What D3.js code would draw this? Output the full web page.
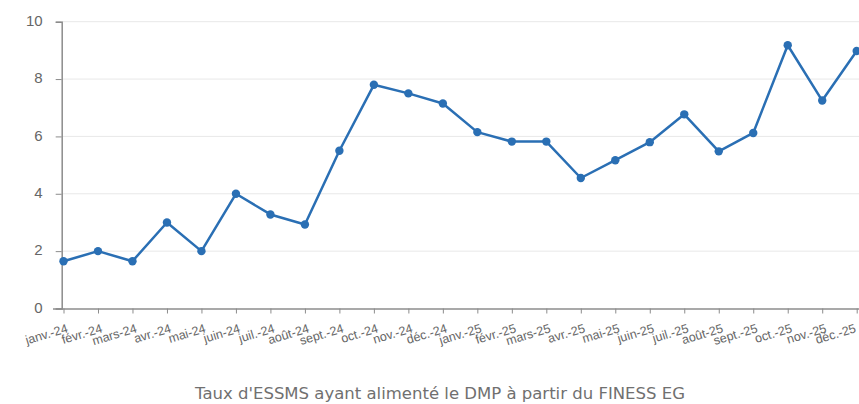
<!DOCTYPE html>
<html>
<head>
<meta charset="utf-8">
<script src="https://cdn.jsdelivr.net/npm/d3@7"></script>
<style>
  body { margin: 0; background: #fff; }
  svg { display: block; font-family: "DejaVu Sans", Verdana, sans-serif; }
  .tick text { fill: #666; }
</style>
</head>
<body>
<div id="chart"></div>
<script>
// Months on the x axis
var months = ['janv.-24','févr.-24','mars-24','avr.-24','mai-24','juin-24','juil.-24','août-24','sept.-24','oct.-24','nov.-24','déc.-24',
              'janv.-25','févr.-25','mars-25','avr.-25','mai-25','juin-25','juil.-25','août-25','sept.-25','oct.-25','nov.-25','déc.-25'];

// Rate values
var taux = [1.65, 2.0, 1.65, 3.0, 2.0, 4.0, 3.28, 2.93, 5.5, 7.8, 7.5, 7.15,
            6.15, 5.82, 5.82, 4.55, 5.17, 5.8, 6.77, 5.48, 6.12, 9.18, 7.25, 8.98];

var yTicks = [0, 2, 4, 6, 8, 10];
var title = "Taux d'ESSMS ayant alimenté le DMP à partir du FINESS EG";

var svgWidth = 859, svgHeight = 404;

var svg = d3.select('#chart')
    .append('svg')
        .attr('width', svgWidth)
        .attr('height', svgHeight);

// Scales
var xScale = d3.scalePoint()
    .domain(months)
    .range([63.5, 856.7]);

var yScale = d3.scaleLinear()
    .domain([0, 10])
    .range([308.5, 21.7]);

// Horizontal grid
svg.append('g')
    .selectAll('line')
    .data(yTicks.slice(1))
    .enter()
    .append('line')
        .attr('x1', 62)
        .attr('x2', svgWidth)
        .attr('y1', function(d) { return yScale(d); })
        .attr('y2', function(d) { return yScale(d); })
        .attr('stroke', '#e8e8e8')
        .attr('stroke-width', 1);

// y axis
var leftAxis = d3.axisLeft(yScale).tickValues(yTicks).tickSize(6).tickPadding(13);
var yAxis = svg.append('g')
    .attr('transform', 'translate(61.7,0)')
    .call(leftAxis);
yAxis.selectAll('text').style('font-size', '15px').attr('dy', '0.25em');

// x axis
var bottomAxis = d3.axisBottom(xScale).tickSize(5).tickSizeOuter(0);
var xAxis = svg.append('g')
    .attr('transform', 'translate(0,308.5)')
    .call(bottomAxis);
xAxis.select('.domain').attr('d', 'M53,0.5H' + svgWidth);
xAxis.selectAll('text')
    .style('font-size', '12.5px')
    .style('text-anchor', 'end')
    .attr('dy', '0.7em')
    .attr('y', 0)
    .attr('transform', function(d, i) {
        // keep the last label inside the picture
        var dx = i === months.length - 1 ? -3 : 2;
        return 'translate(' + dx + ',15) rotate(-17)';
    });

svg.selectAll('.domain, .tick line').attr('stroke', '#8c8c8c');
yAxis.select('.domain').attr('stroke-width', 1.5);
xAxis.select('.domain').attr('stroke-width', 1.5);

// Line
var line = d3.line()
    .x(function(d, i) { return xScale(months[i]); })
    .y(function(d) { return yScale(d); });

svg.append('path')
    .datum(taux)
    .attr('d', line)
    .attr('fill', 'none')
    .attr('stroke', '#2a6fb4')
    .attr('stroke-width', 2.5)
    .attr('stroke-linejoin', 'round');

svg.append('g')
    .selectAll('circle')
    .data(taux)
    .enter()
    .append('circle')
        .attr('cx', function(d, i) { return xScale(months[i]); })
        .attr('cy', function(d) { return yScale(d); })
        .attr('r', 4.2)
        .attr('fill', '#2a6fb4');

// Title under the chart
svg.append('text')
    .attr('x', 440)
    .attr('y', 399)
    .attr('text-anchor', 'middle')
    .attr('fill', '#707070')
    .style('font-size', '16.5px')
    .text(title);
</script>
</body>
</html>
